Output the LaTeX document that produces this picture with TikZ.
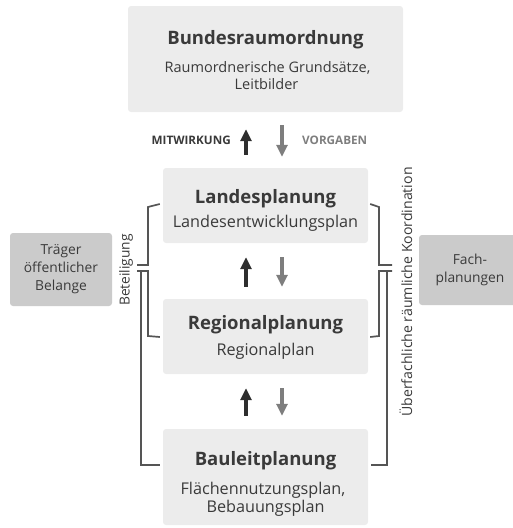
\documentclass[tikz,border=0pt]{standalone}
\usepackage{fontspec}
\setmainfont{Open Sans}
\usetikzlibrary{arrows.meta}
\definecolor{boxlight}{HTML}{ECECEC}
\definecolor{boxdark}{HTML}{CBCBCB}
\definecolor{txt}{HTML}{3A3A3A}
\definecolor{arrdark}{HTML}{2E2E2E}
\definecolor{arrgray}{HTML}{7E7E7E}
\definecolor{brk}{HTML}{555555}
\tikzset{
  lvlbox/.style={fill=boxlight, rounded corners=3pt, draw=none, inner sep=0pt},
  sidebox/.style={fill=boxdark, rounded corners=3pt, draw=none, inner sep=0pt},
  ttl/.style={anchor=base, font=\fontsize{18.5}{22}\selectfont\bfseries, text=txt, inner sep=0pt},
  sub/.style={anchor=base, font=\fontsize{16.2}{19}\selectfont, text=txt, inner sep=0pt},
  subsmall/.style={anchor=base, font=\fontsize{14.5}{17}\selectfont, text=txt, inner sep=0pt},
  sidetxt/.style={font=\fontsize{13.8}{18}\selectfont, text=txt, align=center, inner sep=0pt},
  vlabel/.style={text=txt, rotate=90, inner sep=0pt},
  uparr/.style={arrdark, line width=4pt, -{Triangle[length=12pt,width=11pt]}},
  downarr/.style={arrgray, line width=4pt, -{Triangle[length=12pt,width=11pt]}},
  brack/.style={brk, line width=1.7pt},
}
\begin{document}
\begin{tikzpicture}[x=1pt,y=-1pt]
\useasboundingbox (0,0) rectangle (513,528);
\begin{scope}
\clip (0,0) rectangle (513,528);
% level boxes
\node[lvlbox, minimum width=275pt, minimum height=106pt] (bund) at (265.5,59) {};
\node[lvlbox, minimum width=205pt, minimum height=75pt] (landes) at (265.5,205.5) {};
\node[lvlbox, minimum width=205pt, minimum height=75pt] (regional) at (265.5,336.5) {};
\node[lvlbox, minimum width=205pt, minimum height=96pt] (bauleit) at (265.5,477) {};
% side boxes
\node[sidebox, minimum width=102pt, minimum height=73pt] (traeger) at (61,269.5) {};
\node[sidebox, minimum width=102pt, minimum height=70pt] (fach) at (470,270) {};
\end{scope}
% texts
\node[ttl] (bundT) at (265.5,44) {Bundesraumordnung};
\node[subsmall] (bundS1) at (267.5,72) {Raumordnerische Grundsätze,};
\node[subsmall] (bundS2) at (266.5,89) {Leitbilder};
\node[ttl] (landesT) at (265.5,203) {Landesplanung};
\node[sub] (landesS) at (265.5,227) {Landesentwicklungsplan};
\node[ttl] (regT) at (265.5,329) {Regionalplanung};
\node[sub] (regS) at (265.5,355) {Regionalplan};
\node[ttl] (bauT) at (265.5,465) {Bauleitplanung};
\node[sub] (bauS1) at (263,494) {Flächennutzungsplan,};
\node[sub] (bauS2) at (265.5,512) {Bebauungsplan};
\node[sidetxt] (traegerT) at (traeger) {Träger\\öffentlicher\\Belange};
\node[sidetxt] (fachT) at (fach) {Fach-\\planungen};
\node[vlabel, font=\fontsize{13.8}{15}\selectfont] (betlab) at (126,270) {Beteiligung};
\node[vlabel, font=\fontsize{14.1}{15}\selectfont] (koordlab) at (406,292) {Überfachliche räumliche Koordination};
\node[anchor=base east, font=\fontsize{11.7}{13}\selectfont\bfseries, text=txt, inner sep=0pt] (mitw) at (231,144) {MITWIRKUNG};
\node[anchor=base west, font=\fontsize{11.7}{13}\selectfont\bfseries, text=arrgray, inner sep=0pt] (vorg) at (302,144) {VORGABEN};
% arrows
\draw[uparr, shorten <=13pt, shorten >=17pt] ([xshift=-19.5pt]landes.north) -- ([xshift=-19.5pt]bund.south);
\draw[downarr, shorten <=13pt, shorten >=11pt] ([xshift=16.5pt]bund.south) -- ([xshift=16.5pt]landes.north);
\draw[uparr, shorten <=12pt, shorten >=14pt] ([xshift=-19.5pt]regional.north) -- ([xshift=-19.5pt]landes.south);
\draw[downarr, shorten <=14pt, shorten >=12pt] ([xshift=16.5pt]landes.south) -- ([xshift=16.5pt]regional.north);
\draw[uparr, shorten <=13pt, shorten >=14pt] ([xshift=-19.5pt]bauleit.north) -- ([xshift=-19.5pt]regional.south);
\draw[downarr, shorten <=14pt, shorten >=13pt] ([xshift=16.5pt]regional.south) -- ([xshift=16.5pt]bauleit.north);
% bracket coordinates
\coordinate (bl1) at (137,265);
\coordinate (bl2) at (137,271);
\coordinate (br1) at (392,265);
\coordinate (br2) at (392,271);
\coordinate (bauLt) at (160,465);
\coordinate (bauRt) at (371,465);
% left brackets
\draw[brack] ([xshift=-3pt,yshift=1.5pt]landes.west) -- (148,207) -- (148,265) -- (bl1);
\draw[brack] (bl2) -- (148,271) -- (148,336) -- ([xshift=-3pt,yshift=-0.5pt]regional.west);
\draw[brack] (141,271) -- (141,465) -- (bauLt);
% right brackets
\draw[brack] ([xshift=2pt,yshift=1.5pt]landes.east) -- (379,207) -- (379,265) -- (br1);
\draw[brack] (br2) -- (379,271) -- (379,336) -- ([xshift=2pt,yshift=-0.5pt]regional.east);
\draw[brack] (387,271) -- (387,465) -- (bauRt);
\end{tikzpicture}
\end{document}
